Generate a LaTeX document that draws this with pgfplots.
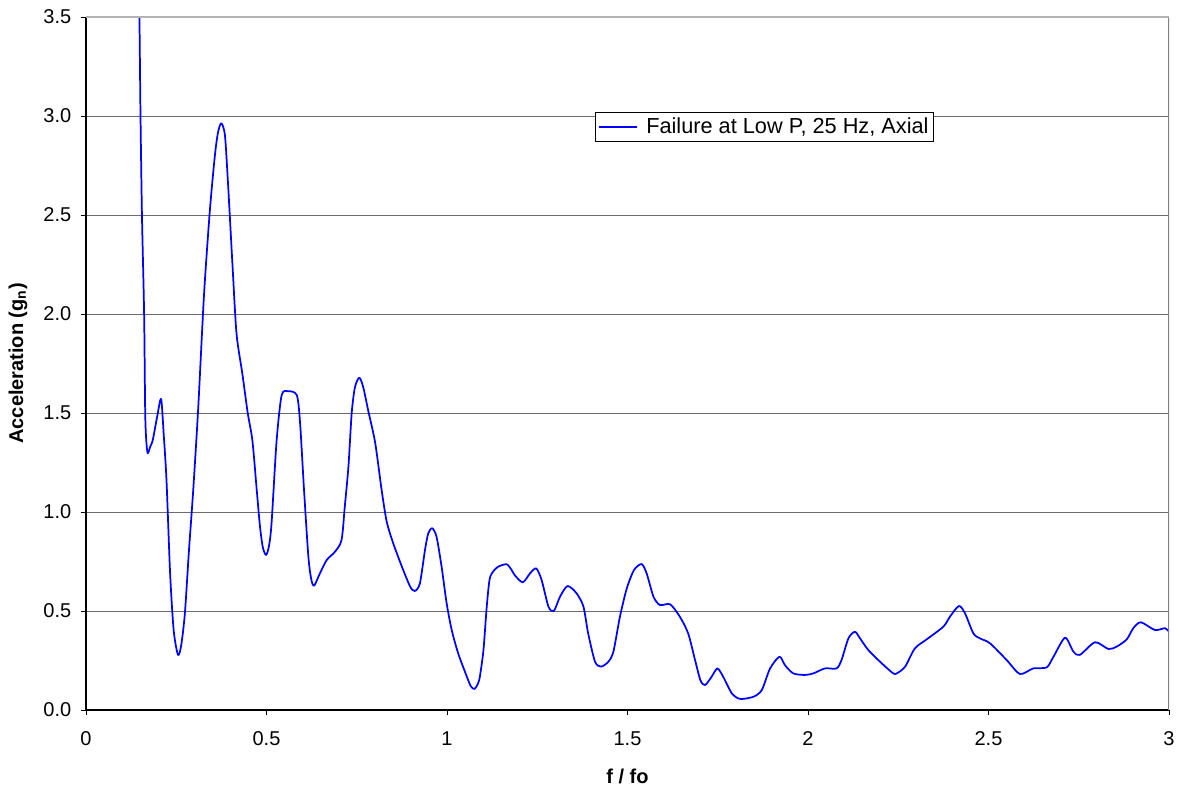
\documentclass[border=0pt]{standalone}
\usepackage{pgfplots}
\pgfplotsset{compat=1.18}
\usepackage{fontspec}
\setmainfont{Liberation Sans}
\definecolor{lineblue}{RGB}{0,0,255}
\begin{document}
\begin{tikzpicture}
\begin{axis}[
  width=812.25pt, height=519.75pt, scale only axis,
  xmin=0, xmax=3, ymin=0, ymax=3.5,
  xtick={0,0.5,...,3}, ytick={0,0.5,...,3.5},
  xticklabels={0,0.5,1,1.5,2,2.5,3},
  yticklabel style={xshift=-3.5pt, /pgf/number format/.cd, fixed, fixed zerofill, precision=1},
  /pgf/number format/assume math mode=true,
  axis x line*=bottom, axis y line*=left,
  axis line style={black, line width=0.9pt, -},
  tick align=outside, major tick length=4pt,
  tick style={black, line width=0.7pt},
  ymajorgrids, grid style={gray!85!black, line width=0.7pt},
  ticklabel style={font=\fontsize{15}{17}\selectfont},
  xticklabel style={yshift=-8.5pt},
  xlabel={\textbf{f / fo}}, ylabel={\textbf{Acceleration (g\textsubscript{n})}},
  label style={font=\fontsize{15}{17}\selectfont},
  xlabel style={at={(axis description cs:0.5,-0.0952)}, anchor=center},
  ylabel style={at={(axis description cs:-0.0628,0.5)}, anchor=center},
  clip=true,
  legend style={at={(0.6265,0.8413)}, anchor=center, draw=black, line width=0.7pt,
    font=\fontsize{16.3}{18}\selectfont, inner xsep=1.5pt, inner ysep=2.5pt, row sep=0pt,
    /tikz/every odd column/.append style={column sep=4.5pt}},
  legend cell align=left,
]
\addplot[lineblue, line width=1.3pt, line join=round, smooth, tension=0.45,
  legend image code/.code={\draw[lineblue, line width=1.4pt] (0pt,0pt) -- (28.5pt,0pt);}] coordinates {
(0.144,4.0) (0.148,3.5) (0.151,3.0) (0.155,2.5) (0.161,2.0) (0.164,1.5) (0.167,1.36) (0.171,1.297)
(0.178,1.33) (0.185,1.364) (0.197,1.48) (0.208,1.571) (0.215,1.40) (0.223,1.16) (0.233,0.69)
(0.243,0.40) (0.255,0.278) (0.264,0.33) (0.274,0.49) (0.285,0.80) (0.297,1.11) (0.311,1.53)
(0.327,2.10) (0.343,2.52) (0.357,2.80) (0.366,2.92) (0.375,2.963) (0.385,2.90) (0.394,2.64)
(0.406,2.24) (0.417,1.90) (0.433,1.70) (0.448,1.50) (0.461,1.36) (0.473,1.11) (0.482,0.926)
(0.490,0.82) (0.499,0.783) (0.507,0.83) (0.514,0.943) (0.528,1.36) (0.542,1.59) (0.560,1.61)
(0.584,1.59) (0.593,1.45) (0.604,1.11) (0.616,0.774) (0.624,0.66) (0.632,0.628) (0.648,0.69)
(0.667,0.758) (0.690,0.80) (0.708,0.859) (0.717,1.03) (0.727,1.23) (0.736,1.50) (0.745,1.63)
(0.757,1.678) (0.768,1.63) (0.782,1.51) (0.801,1.35) (0.819,1.11) (0.833,0.951) (0.851,0.842)
(0.875,0.724) (0.898,0.623) (0.911,0.601) (0.925,0.64) (0.939,0.808) (0.948,0.892) (0.959,0.918)
(0.971,0.875) (0.985,0.724) (0.999,0.539) (1.013,0.404) (1.031,0.286) (1.055,0.168) (1.066,0.12)
(1.076,0.106) (1.085,0.13) (1.091,0.168) (1.101,0.303) (1.110,0.52) (1.118,0.66) (1.128,0.70)
(1.142,0.724) (1.165,0.736) (1.178,0.71) (1.188,0.68) (1.210,0.645) (1.230,0.69) (1.247,0.715)
(1.262,0.657) (1.281,0.522) (1.296,0.50) (1.313,0.572) (1.334,0.626) (1.359,0.589) (1.378,0.522)
(1.391,0.387) (1.410,0.244) (1.427,0.219) (1.447,0.244) (1.461,0.295) (1.479,0.471) (1.498,0.614)
(1.518,0.707) (1.539,0.737) (1.553,0.69) (1.572,0.572) (1.590,0.53) (1.618,0.534) (1.645,0.471)
(1.668,0.387) (1.687,0.253) (1.702,0.15) (1.715,0.126) (1.733,0.168) (1.749,0.21) (1.765,0.168)
(1.789,0.084) (1.812,0.056) (1.849,0.067) (1.872,0.101) (1.895,0.21) (1.921,0.269) (1.936,0.227)
(1.959,0.185) (1.992,0.177) (2.015,0.185) (2.047,0.21) (2.079,0.21) (2.093,0.253) (2.112,0.362)
(2.130,0.395) (2.144,0.362) (2.167,0.303) (2.204,0.236) (2.236,0.185) (2.246,0.185) (2.269,0.219)
(2.296,0.311) (2.329,0.357) (2.375,0.421) (2.393,0.471) (2.418,0.525) (2.435,0.488) (2.458,0.387)
(2.476,0.362) (2.504,0.337) (2.550,0.253) (2.587,0.182) (2.624,0.21) (2.661,0.215) (2.680,0.269)
(2.712,0.365) (2.735,0.295) (2.753,0.278) (2.795,0.342) (2.832,0.308) (2.855,0.32) (2.883,0.357)
(2.901,0.413) (2.922,0.443) (2.961,0.404) (2.989,0.413) (3.0,0.395)
};
\addlegendentry{Failure at Low P, 25 Hz, Axial}
\draw[gray, line width=0.9pt] (rel axis cs:1,0) -- (rel axis cs:1,1);
\draw[gray!60, line width=0.9pt] (rel axis cs:0,1) -- (rel axis cs:1,1);
\end{axis}
\path (current axis.south west) ++(-64.5pt,-59.25pt);
\path (current axis.north east) ++(8.25pt,12.75pt);
\end{tikzpicture}
\end{document}
